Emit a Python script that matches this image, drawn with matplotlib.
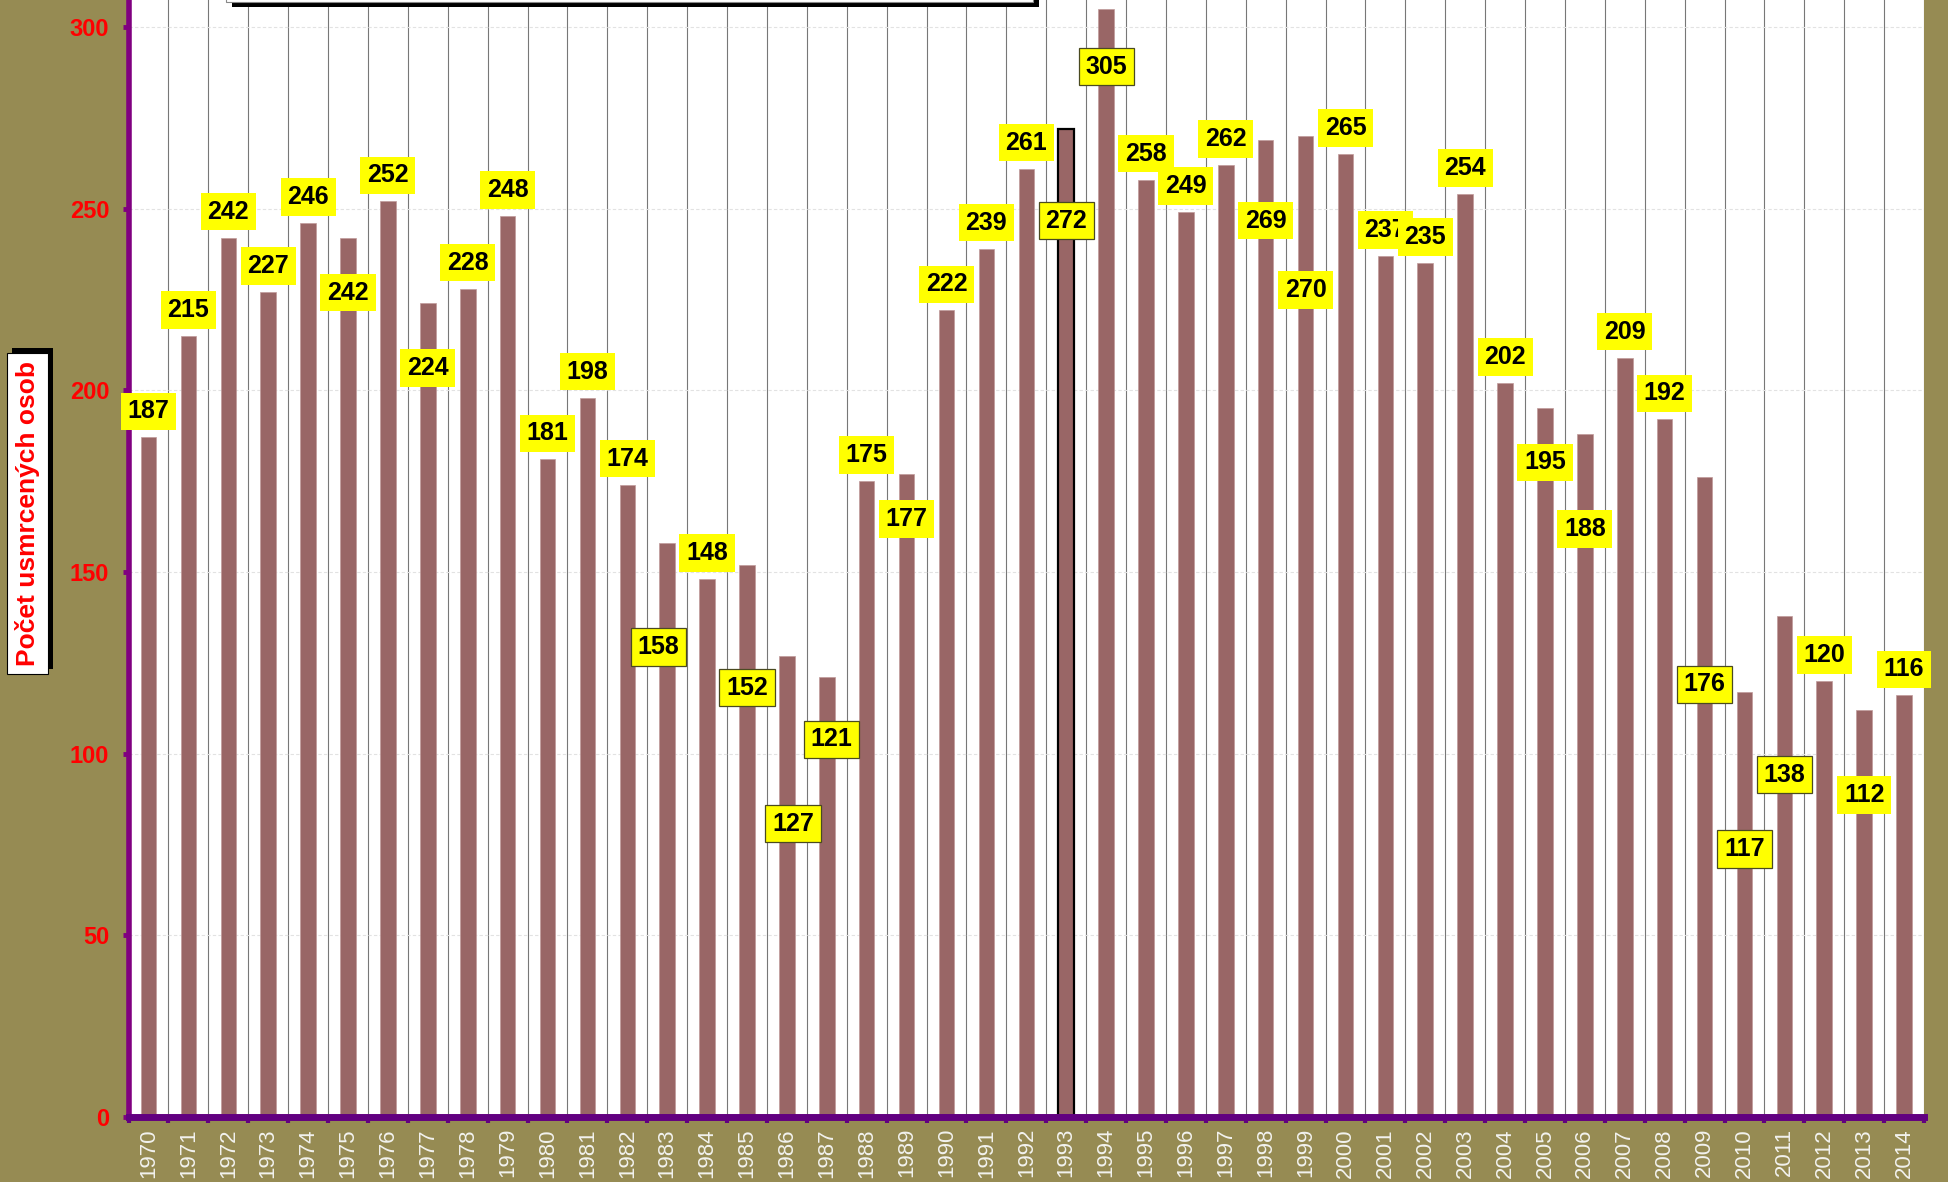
import matplotlib
matplotlib.use("Agg")
import matplotlib.pyplot as plt
from matplotlib.patches import Rectangle
from matplotlib.transforms import IdentityTransform

# ---------------- data ----------------
years = [str(y) for y in range(1970, 2015)]
deaths = [187, 215, 242, 227, 246, 242, 252, 224, 228, 248,
          181, 198, 174, 158, 148, 152, 127, 121, 175, 177,
          222, 239, 261, 272, 305, 258, 249, 262, 269, 270,
          265, 237, 235, 254, 202, 195, 188, 209, 192, 176,
          117, 138, 120, 112, 116]
y_ticks = [0, 50, 100, 150, 200, 250, 300]
y_label = "Počet usmrcených osob"

# ---------------- label placement (style) ----------------
above_px = 26
below_px = {"1975": -55, "1977": -65, "1983": -104, "1985": -123, "1986": -168,
            "1987": -62, "1989": -45, "1993": -92, "1994": -58, "1998": -81,
            "1999": -154, "2005": -54, "2006": -95, "2009": -207, "2010": -157,
            "2011": -159, "2013": -85}
label_dx = {"1983": -9, "1986": 6, "1987": 5}
bordered = {"1983", "1985", "1986", "1987", "1993", "1994", "2009", "2010", "2011"}
highlight = "1993"

# ---------------- style ----------------
BG = "#968B53"
BAR = "#996666"
PURPLE = "#800080"
PURPLE_DARK = "#620080"
FONT = "Liberation Sans"

plt.rcParams["font.family"] = [FONT, "DejaVu Sans"]

W, H, DPI = 1948, 1182, 100
fig = plt.figure(figsize=(W / DPI, H / DPI), dpi=DPI, facecolor=BG)
ax = fig.add_axes([128.6 / W, 65 / H, (1924 - 128.6) / W, 1 - 65 / H])
ax.set_facecolor("white")

x = list(range(len(years)))
bars = ax.bar(x, deaths, width=0.39, color=BAR, edgecolor="#c09a9a",
              linewidth=0.5, zorder=2)
for b, yr in zip(bars, years):
    if yr == highlight:
        b.set_edgecolor("black")
        b.set_linewidth(1.6)
        b.set_zorder(3)

ax.set_xlim(-0.5, len(years) - 0.5)
ax.set_ylim(0, 307.4)

# ticks
ax.set_xticks(x)
ax.set_xticklabels(years, rotation=90, color="#f2f2ee", fontsize=16,
                   fontfamily=FONT)
ax.set_xticks([i - 0.5 for i in range(len(years) + 1)], minor=True)
ax.tick_params(axis="x", which="major", length=0, pad=8)
ax.tick_params(axis="x", which="minor", direction="out", length=4, width=3,
               color=PURPLE_DARK)
ax.set_yticks(y_ticks)
ax.set_yticklabels([str(v) for v in y_ticks], color="#ff0000", fontsize=17,
                   fontweight="bold", fontfamily=FONT)
ax.tick_params(axis="y", which="major", direction="out", length=4, width=3.5,
               color=PURPLE, pad=10)

# grid
ax.set_axisbelow(True)
ax.grid(which="minor", axis="x", color="#777777", linewidth=0.8)
ax.grid(which="major", axis="y", color="#e2e2e2", linewidth=0.8,
        linestyle=(0, (3, 2)))
ax.grid(which="major", axis="x", visible=False)

# spines
for s in ("top", "right"):
    ax.spines[s].set_visible(False)
ax.spines["left"].set_color(PURPLE)
ax.spines["left"].set_linewidth(4)
ax.spines["bottom"].set_color(PURPLE_DARK)
ax.spines["bottom"].set_linewidth(5)
ax.spines["left"].set_zorder(4)
ax.spines["bottom"].set_zorder(4)

# value labels
for i, (yr, v) in enumerate(zip(years, deaths)):
    dy = below_px.get(yr, above_px)
    dx = label_dx.get(yr, 0)
    ec = "#4a4a20" if yr in bordered else "none"
    ax.annotate(str(v), xy=(i, v), xytext=(dx, dy), textcoords="offset pixels",
                ha="center", va="center", fontsize=18, fontweight="bold",
                fontfamily=FONT, color="black", zorder=10 + i,
                bbox=dict(boxstyle="square,pad=0.27", fc="#ffff00", ec=ec,
                          lw=0.9))

# y-axis title box with shadow
t = fig.text(27.5 / W, 1 - 513.5 / H, y_label, rotation=90, ha="center",
             va="center", color="#ff0000", fontsize=19, fontweight="bold",
             fontfamily=FONT, zorder=5,
             bbox=dict(boxstyle="square,pad=0.3", fc="white", ec="black",
                       lw=0.8))
fig.canvas.draw()
bb = t.get_bbox_patch().get_window_extent()
fig.patches.append(Rectangle((bb.x0 + 5, bb.y0 + 5), bb.width, bb.height,
                             transform=IdentityTransform(), fc="black",
                             ec="none", zorder=4))

# partially visible title box at the top
fig.patches.append(Rectangle((232, H - 7), 807, 10, transform=IdentityTransform(),
                             fc="black", ec="none", zorder=4))
fig.patches.append(Rectangle((226, H - 2), 807, 6, transform=IdentityTransform(),
                             fc="white", ec="#888888", lw=0.8, zorder=5))

fig.savefig("out.png", dpi=DPI, facecolor=BG)
